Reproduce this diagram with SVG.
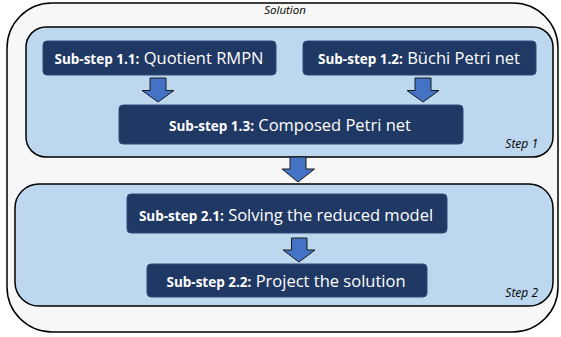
<svg xmlns="http://www.w3.org/2000/svg" width="561" height="337" viewBox="0 0 561 337">
<defs>
<style>
.outer{fill:#f7f7f7;stroke:#000;stroke-width:1.5}
.step{fill:#bdd7ee;stroke:#000;stroke-width:1.5}
.node rect{fill:#203864;stroke:#2e4a78;stroke-width:1}
.node text{fill:#fff;font-family:"Open Sans","Noto Sans",sans-serif;text-anchor:middle}
.b{font-weight:bold;font-size:13.5px}
.r{font-size:16.5px}
.arrow{fill:#4472c4;stroke:#1a1a1a;stroke-width:1}
.lbl{font-family:"Open Sans","Noto Sans",sans-serif;font-style:italic;font-size:11.5px;fill:#000}
</style>
</defs>
<g id="solution">
<rect class="outer" x="7" y="3" width="551" height="329" rx="45"/>
<text class="lbl" x="285" y="14" text-anchor="middle">Solution</text>
</g>
<g id="step1">
<rect class="step" x="26" y="27" width="527" height="130" rx="20"/>
<text class="lbl" x="538" y="148" font-size="12px" text-anchor="end" style="font-size:12px">Step 1</text>
</g>
<g id="step2">
<rect class="step" x="15" y="184" width="538" height="122" rx="24"/>
<text class="lbl" x="538" y="297" text-anchor="end" style="font-size:12px">Step 2</text>
</g>
<g id="connectors">
<path class="arrow" d="M150,78 H166 V90.5 H174 L158,102 L142,90.5 H150 Z"/>
<path class="arrow" d="M415,78 H431 V90.5 H439 L423,102 L407,90.5 H415 Z"/>
<path class="arrow" d="M290,157 H306 V169 H314.5 L298,182 L282,169 H290 Z"/>
<path class="arrow" d="M291.5,238 H307 V250 H315 L299,262 L283,250 H291.5 Z"/>
</g>
<g id="sub11" class="node">
<rect x="43" y="41" width="233" height="34" rx="4"/>
<text x="159" y="63.5"><tspan class="b">Sub-step 1.1:</tspan><tspan class="r"> Quotient RMPN</tspan></text>
</g>
<g id="sub12" class="node">
<rect x="303" y="41" width="233" height="34" rx="4"/>
<text x="419" y="63.5"><tspan class="b">Sub-step 1.2:</tspan><tspan class="r"> Büchi Petri net</tspan></text>
</g>
<g id="sub13" class="node">
<rect x="119" y="105" width="344" height="39" rx="4"/>
<text x="290" y="130.5"><tspan class="b">Sub-step 1.3:</tspan><tspan class="r"> Composed Petri net</tspan></text>
</g>
<g id="sub21" class="node">
<rect x="127" y="194" width="320" height="39" rx="4"/>
<text x="286" y="220.5"><tspan class="b">Sub-step 2.1:</tspan><tspan class="r"> Solving the reduced model</tspan></text>
</g>
<g id="sub22" class="node">
<rect x="147" y="264" width="280" height="33" rx="4"/>
<text x="286" y="286.5"><tspan class="b">Sub-step 2.2:</tspan><tspan class="r"> Project the solution</tspan></text>
</g>
</svg>
